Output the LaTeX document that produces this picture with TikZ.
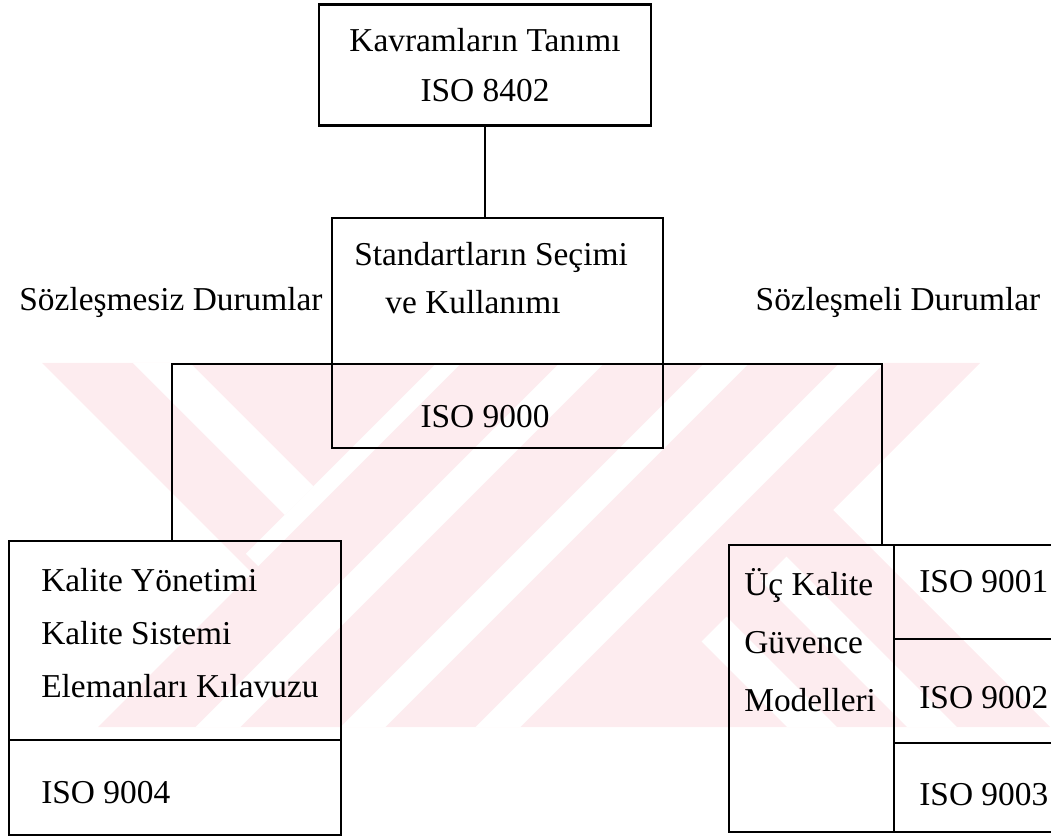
\documentclass[tikz,border=0pt]{standalone}
\usepackage{fontspec}
\setmainfont{Liberation Serif}
\usetikzlibrary{positioning}
\definecolor{filigran}{RGB}{253,236,239}
\tikzset{
  kutu/.style={draw, inner sep=0pt, outer sep=0pt},
  yazi/.style={inner sep=0pt},
  serit/.style={white, line width=18pt}
}
\begin{document}
\begin{tikzpicture}[x=0.02cm, y=-0.02cm, line width=1.5pt, font=\fontsize{19}{28}\selectfont]
\useasboundingbox (0,0) rectangle (1051,837);
\begin{scope}
\clip (42,363) -- (980,363) -- (833,510) -- (1050,727) -- (98,727) -- (252,573) -- cycle;
\fill[filigran] (0,360) rectangle (1051,730);
\draw[serit, line width=23pt] (141,342.5) -- (299,500.5);
\draw[serit, line width=10pt] (469,343) -- (252,560);
\foreach \c in {945,1090,1225}
  \draw[serit] ({\c-343},343) -- ({\c-747},747);
\draw[serit, line width=20pt] (714,629) -- (842,757);
\draw[serit, line width=20pt] (774,569) -- (962,757);
\end{scope}
\node[kutu, minimum width=6.64cm, minimum height=2.42cm, align=center, font=\fontsize{19}{28.4}\selectfont] (kavram) at (485,65) {Kavramların Tanımı\\ISO 8402};
\node[kutu, minimum width=6.62cm, minimum height=4.6cm] (secim) at (497.5,333) {};
\node[yazi] (secim1) at (491,257) {Standartların Seçimi};
\node[yazi] (secim2) at (473,302) {ve Kullanımı};
\node[yazi] (iso9000) at (485,417) {ISO 9000};
\node[yazi] (sozsiz) at (171,302) {Sözleşmesiz Durumlar};
\node[yazi] (sozlu) at (898,302) {Sözleşmeli Durumlar};
\node[kutu, minimum width=6.64cm, minimum height=3.98cm] (kalite) at (175,640.5) {};
\node[kutu, minimum width=6.64cm, minimum height=1.9cm, below=0pt of kalite] (kalitealt) {};
\node[yazi, anchor=west, align=left, font=\fontsize{19}{30.2}\selectfont] (kalitetxt) at (40,633) {Kalite Yönetimi\\Kalite Sistemi\\Elemanları Kılavuzu};
\node[yazi, anchor=west] (iso9004) at (40,793) {ISO 9004};
\node[kutu, minimum width=3.3cm, minimum height=5.74cm] (uc) at (811.5,688.5) {};
\node[yazi, anchor=west, align=left, font=\fontsize{19}{33}\selectfont] (uctxt) at (743,640) {Üç Kalite\\Güvence\\Modelleri};
\node[kutu, minimum width=3.92cm, minimum height=1.88cm, anchor=north west] (c9001) at (uc.north east) {};
\node[kutu, minimum width=3.92cm, minimum height=2.08cm, below=0pt of c9001] (c9002) {};
\node[kutu, minimum width=3.92cm, minimum height=1.78cm, below=0pt of c9002] (c9003) {};
\node[yazi, anchor=west] (iso9001) at (918,582) {ISO 9001};
\node[yazi, anchor=west] (iso9002) at (918,698) {ISO 9002};
\node[yazi, anchor=west] (iso9003) at (918,795) {ISO 9003};
\coordinate (solkol) at (172,364);
\coordinate (sagkol) at (882,364);
\draw (kavram.south) -- (kavram.south |- secim.north);
\draw (kalite.north -| solkol) -- (solkol) -- (sagkol) -- (uc.north -| sagkol);
\end{tikzpicture}
\end{document}
